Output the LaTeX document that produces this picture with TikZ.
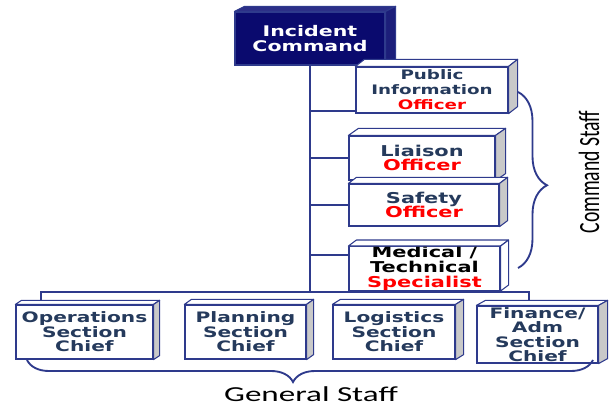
\documentclass[tikz,border=0pt]{standalone}
\usepackage{fontspec}
\usepackage{tikz}
\usetikzlibrary{decorations.pathreplacing, calc}
\newfontfamily\boxfont[FakeStretch=1.4]{DejaVu Sans}
\newfontfamily\staffont[FakeStretch=1.55]{Carlito}
\newfontfamily\staffrot[FakeStretch=0.67]{Carlito}
\definecolor{icsLine}{HTML}{2E3A8C}
\definecolor{icsNavy}{HTML}{0A0A6E}
\definecolor{icsNavyTop}{HTML}{2C2F88}
\definecolor{icsNavySide}{HTML}{1C1E7A}
\definecolor{icsSlate}{HTML}{253A5C}
\definecolor{icsRed}{HTML}{FF0000}
\definecolor{icsSide}{HTML}{C9C9C9}

\newcommand{\off}[1]{\textcolor{icsRed}{#1}}
% top and right faces of a box node: name, dx, dy, top fill, side fill
\newcommand{\boxdepth}[5]{%
  \filldraw[draw=icsLine, line width=0.8pt, fill=#4, line join=round]
    (#1.north west) -- ++(#2,-#3) -- ([shift={(#2,-#3)}]#1.north east) -- (#1.north east) -- cycle;
  \filldraw[draw=icsLine, line width=0.8pt, fill=#5, line join=round]
    (#1.north east) -- ([shift={(#2,-#3)}]#1.north east) -- ([shift={(#2,-#3)}]#1.south east) -- (#1.south east) -- cycle;
}

\begin{document}
\begin{tikzpicture}[
    x=0.75pt, y=-0.75pt,
    box/.style={draw=icsLine, line width=0.9pt, fill=white, inner sep=0pt, align=center,
                text=icsSlate, font=\boxfont\bfseries},
    mainbox/.style={box, fill=icsNavy, text=white, font=\boxfont\bfseries\fontsize{11}{11.25}\selectfont},
    cmdbox/.style={box, font=\boxfont\bfseries\fontsize{11.2}{11}\selectfont},
    genbox/.style={box, minimum height=40.5pt, font=\boxfont\bfseries\fontsize{10.8}{10.8}\selectfont},
    link/.style={draw=icsLine, line width=1.5pt},
    trunk/.style={draw=icsLine, line width=2pt},
    staffbrace/.style={draw=icsLine, line width=1.4pt, decorate, decoration={brace, amplitude=#1}},
]
\useasboundingbox (0,0) rectangle (615,407);

% --- Incident command ---
\node[mainbox, minimum width=112.5pt, minimum height=39.75pt] (ic) at (310,38.5) {Incident\\Command};
\coordinate (bar) at (310,293);
\draw[trunk] (ic.south) -- (bar);

% --- Command staff ---
\node[box, font=\boxfont\bfseries\fontsize{9.8}{11.25}\selectfont,
      minimum width=114pt, minimum height=34.5pt] (pio) at (432,90) {Public\\Information\\\off{Officer}};
\node[cmdbox, minimum width=109.5pt, minimum height=33pt] (lno) at (422,158) {Liaison\\\off{Officer}};
\node[cmdbox, minimum width=112.5pt, minimum height=31.5pt] (sof) at (424,205) {Safety\\\off{Officer}};
\node[cmdbox, text=black, minimum width=113.25pt, minimum height=32.25pt] (med) at (424.5,268.5) {Medical /\\Technical\\\off{Specialist}};

\path ([yshift=2.25pt]pio.south west) coordinate (pioin);
\path ([yshift=-6.75pt]med.north west) coordinate (medin);
\draw[link] (pioin) -- (pioin -| ic.south);
\draw[link] (lno.west) -- (lno.west -| ic.south);
\draw[link] (sof.west) -- (sof.west -| ic.south);
\draw[link] (medin) -- (medin -| ic.south);

\boxdepth{ic}{10}{5}{icsNavyTop}{icsNavySide}
\boxdepth{pio}{9}{7}{white}{icsSide}
\boxdepth{lno}{10}{7}{white}{icsSide}
\boxdepth{sof}{8}{6}{white}{icsSide}
\boxdepth{med}{8}{6}{white}{white}

\draw[staffbrace=21.75pt, decoration={aspect=0.53}] (518,92) -- (518,268);
\node[font=\staffrot\fontsize{22}{22}\selectfont, rotate=90] (cmdstaff) at (589,172) {Command Staff};

% --- General staff ---
\node[genbox, minimum width=102.75pt] (ops) at (84.5,332) {Operations\\Section\\Chief};
\node[genbox, minimum width=90.75pt] (pln) at (245.5,332) {Planning\\Section\\Chief};
\node[genbox, minimum width=91.5pt] (log) at (394,332) {Logistics\\Section\\Chief};
\node[genbox, minimum width=90.75pt, minimum height=42.75pt] (fin) at (537.5,334.5) {Finance/\\Adm\\Section\\Chief};

\draw[link] ([shift={(26,-4)}]ops.north west) -- ++(0,-8) -| ([shift={(53,-5)}]fin.north west);

\boxdepth{ops}{6}{4}{white}{icsSide}
\boxdepth{pln}{7}{5}{white}{icsSide}
\boxdepth{log}{8}{5}{white}{icsSide}
\boxdepth{fin}{9}{5}{white}{icsSide}

\draw[staffbrace=16.5pt, decoration={aspect=0.53}] (593,360) -- (27,360);
\node[font=\staffont\fontsize{16}{16}\selectfont, anchor=base] (genstaff) at (311,401) {General Staff};

\end{tikzpicture}
\end{document}
